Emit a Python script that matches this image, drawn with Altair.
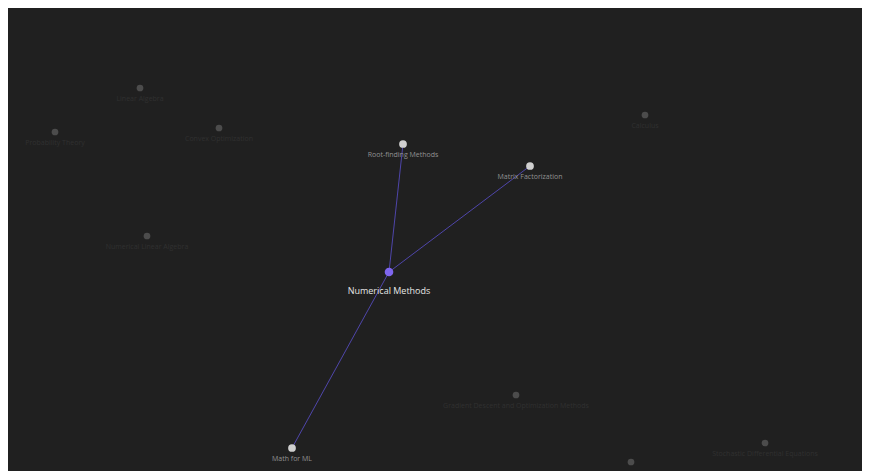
import altair as alt
import pandas as pd

# Node data (layout coordinates, pixel-like units from top-left)
node_names = ["Numerical Methods", "Root-finding Methods", "Matrix Factorization", "Math for ML",
              "Linear Algebra", "Probability Theory", "Convex Optimization", "Numerical Linear Algebra",
              "Calculus", "Gradient Descent and Optimization Methods", "Stochastic Differential Equations",
              ""]
node_x = [381, 395, 522, 284, 132, 47, 211, 139, 637, 508, 757, 623]
node_y = [264, 136, 158, 440, 80, 124, 120, 228, 107, 387, 435, 454]
node_role = ["focus", "neighbor", "neighbor", "neighbor",
             "faded", "faded", "faded", "faded", "faded", "faded", "faded", "faded"]

edge_source = [0, 0, 0]
edge_target = [1, 2, 3]

nodes = pd.DataFrame({"name": node_names, "x": node_x, "y": node_y, "role": node_role})
edges = pd.DataFrame({
    "x": [node_x[s] for s in edge_source],
    "y": [node_y[s] for s in edge_source],
    "x2": [node_x[t] for t in edge_target],
    "y2": [node_y[t] for t in edge_target],
})

W, H = 854, 470
xs = alt.Scale(domain=[0, W], nice=False, zero=False)
ys = alt.Scale(domain=[0, H], nice=False, zero=False, reverse=True)

X = alt.X("x:Q", scale=xs, axis=None)
Y = alt.Y("y:Q", scale=ys, axis=None)

edge_layer = alt.Chart(edges).mark_rule(color="#5a4fcc", strokeWidth=1, opacity=0.8).encode(
    x=X, y=Y, x2="x2:Q", y2="y2:Q")

role_color = alt.Scale(domain=["focus", "neighbor", "faded"], range=["#7f66ee", "#cfcfcf", "#4c4c4c"])
role_size = alt.Scale(domain=["focus", "neighbor", "faded"], range=[75, 45, 38])

node_layer = alt.Chart(nodes).mark_circle(opacity=1).encode(
    x=X, y=Y,
    color=alt.Color("role:N", scale=role_color, legend=None),
    size=alt.Size("role:N", scale=role_size, legend=None),
)

label_focus = alt.Chart(nodes).transform_filter(alt.datum.role == "focus").mark_text(
    dy=19, fontSize=9, color="#e6e6e6", font="Open Sans").encode(x=X, y=Y, text="name:N")
label_nb = alt.Chart(nodes).transform_filter(alt.datum.role == "neighbor").mark_text(
    dy=11, fontSize=7, color="#929292", font="Open Sans").encode(x=X, y=Y, text="name:N")
label_faded = alt.Chart(nodes).transform_filter(
    (alt.datum.role == "faded") & (alt.datum.name != "")).mark_text(
    dy=11, fontSize=7, color="#303030", font="Open Sans").encode(x=X, y=Y, text="name:N")

chart = alt.layer(edge_layer, node_layer, label_faded, label_nb, label_focus).properties(
    width=W, height=H, background="#202020", padding=0,
    autosize=alt.AutoSizeParams(type="none"),
).configure_view(stroke=None, fill="#202020")

chart.save("out.html", embed_options={"renderer": "svg", "actions": False})
